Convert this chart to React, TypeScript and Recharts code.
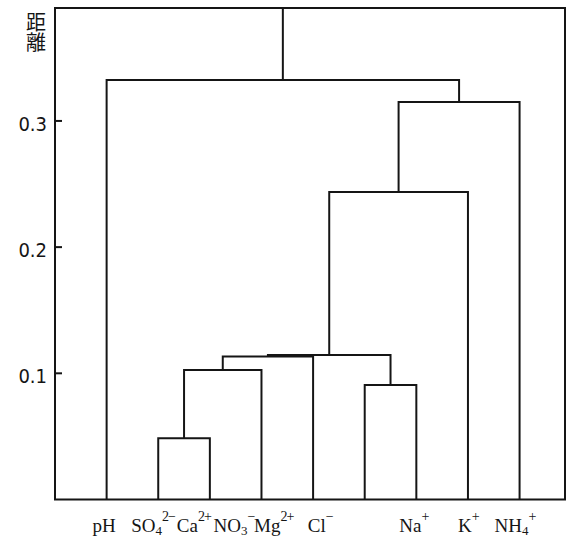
import React from 'react';
import { ComposedChart, Line, XAxis, YAxis, ReferenceArea } from 'recharts';

// leaves (ions), left to right
const leafBase = ['pH', 'SO', 'Ca', 'NO', 'Mg', 'Cl', 'Na', 'K', 'NH'];
const leafSub = ['', '4', '', '3', '', '', '', '', '4'];
const leafSup = ['', '2\u2212', '2+', '\u2212', '2+', '\u2212', '+', '+', '+'];

// linkage: leaves are 0..8, each merge makes node 9, 10, ...
const mergeLeft = [1, 5, 9, 11, 12, 13, 14, 0];
const mergeRight = [2, 6, 3, 4, 10, 7, 8, 15];
const mergeHeight = [0.0485, 0.0907, 0.1026, 0.1133, 0.1145, 0.2437, 0.315, 0.3324];

const yTicks = [0.1, 0.2, 0.3];
const yTickLabels = ['0.1', '0.2', '0.3'];
const yTitle = '距離';

// layout
const W = 571;
const H = 542;
const X_DOMAIN: [number, number] = [-1, 8.88];
const Y_TOP = 0.3895;
const PLOT_LEFT = 55;
const INK = '#151515';
// labels were typeset as one running line, so they sit left of their leaf
const labelShift = [-14, -27, -33, -48, -59, -57, -17, -10, -25];

const nodeX: number[] = leafBase.map((_, i) => i);
const nodeH: number[] = leafBase.map(() => 0);
const segments = mergeLeft.map((l, k) => {
  const r = mergeRight[k];
  const h = mergeHeight[k];
  const seg = [
    { x: nodeX[l], y: nodeH[l] },
    { x: nodeX[l], y: h },
    { x: nodeX[r], y: h },
    { x: nodeX[r], y: nodeH[r] },
  ];
  nodeX.push((nodeX[l] + nodeX[r]) / 2);
  nodeH.push(h);
  return seg;
});
const root = nodeX.length - 1;
segments.push([
  { x: nodeX[root], y: nodeH[root] },
  { x: nodeX[root], y: Y_TOP },
]);

const YTick = (props: any) => {
  const { y, payload } = props;
  const i = yTicks.indexOf(payload.value);
  return (
    <g>
      <line x1={PLOT_LEFT} x2={PLOT_LEFT + 7} y1={y} y2={y} stroke={INK} strokeWidth={2} />
      <text
        x={47}
        y={y + 10}
        textAnchor="end"
        fontFamily="DejaVu Sans Condensed"
        fontSize={20}
        fill={INK}
      >
        {yTickLabels[i]}
      </text>
    </g>
  );
};

const XTick = (props: any) => {
  const { x, payload } = props;
  const i = payload.value;
  const parts = [
    { t: leafBase[i], off: 0, size: 19 },
    { t: leafSub[i], off: 3, size: 13 },
    { t: leafSup[i], off: -11, size: 14 },
  ].filter((p) => p.t);
  let cur = 0;
  return (
    <text x={x + labelShift[i]} y={532} fontFamily="Liberation Serif" fill={INK}>
      {parts.map((p, k) => {
        const dy = p.off - cur;
        cur = p.off;
        return (
          <tspan key={k} dy={dy} fontSize={p.size} letterSpacing={p.off < 0 ? -1 : 0}>
            {p.t}
          </tspan>
        );
      })}
    </text>
  );
};

const YTitle = () => (
  <text
    x={36}
    y={12}
    fontFamily="Noto Sans CJK JP"
    fontSize={20}
    fill={INK}
    style={{ writingMode: 'vertical-rl' }}
  >
    {yTitle}
  </text>
);

const App: React.FC = () => {
  return (
    <div style={{ position: 'absolute', left: 0, top: 0, background: '#fff' }}>
      <ComposedChart width={W} height={H} margin={{ top: 8, right: 6, left: 15, bottom: 12 }}>
        <XAxis
          type="number"
          dataKey="x"
          domain={X_DOMAIN}
          allowDataOverflow
          ticks={leafBase.map((_, i) => i)}
          interval={0}
          tick={<XTick />}
          tickLine={false}
          axisLine={false}
          height={30.5}
        />
        <YAxis
          type="number"
          domain={[0, Y_TOP]}
          allowDataOverflow
          ticks={yTicks}
          tick={<YTick />}
          tickLine={false}
          axisLine={false}
          width={40}
          label={{ content: () => <YTitle /> }}
        />
        <ReferenceArea
          x1={X_DOMAIN[0]}
          x2={X_DOMAIN[1]}
          y1={0}
          y2={Y_TOP}
          fill="none"
          fillOpacity={0}
          stroke={INK}
          strokeWidth={2}
          strokeOpacity={1}
        />
        {segments.map((seg, k) => (
          <Line
            key={k}
            data={seg}
            dataKey="y"
            type="linear"
            stroke={INK}
            strokeWidth={2}
            dot={false}
            activeDot={false}
            isAnimationActive={false}
          />
        ))}
      </ComposedChart>
    </div>
  );
};

export default App;
